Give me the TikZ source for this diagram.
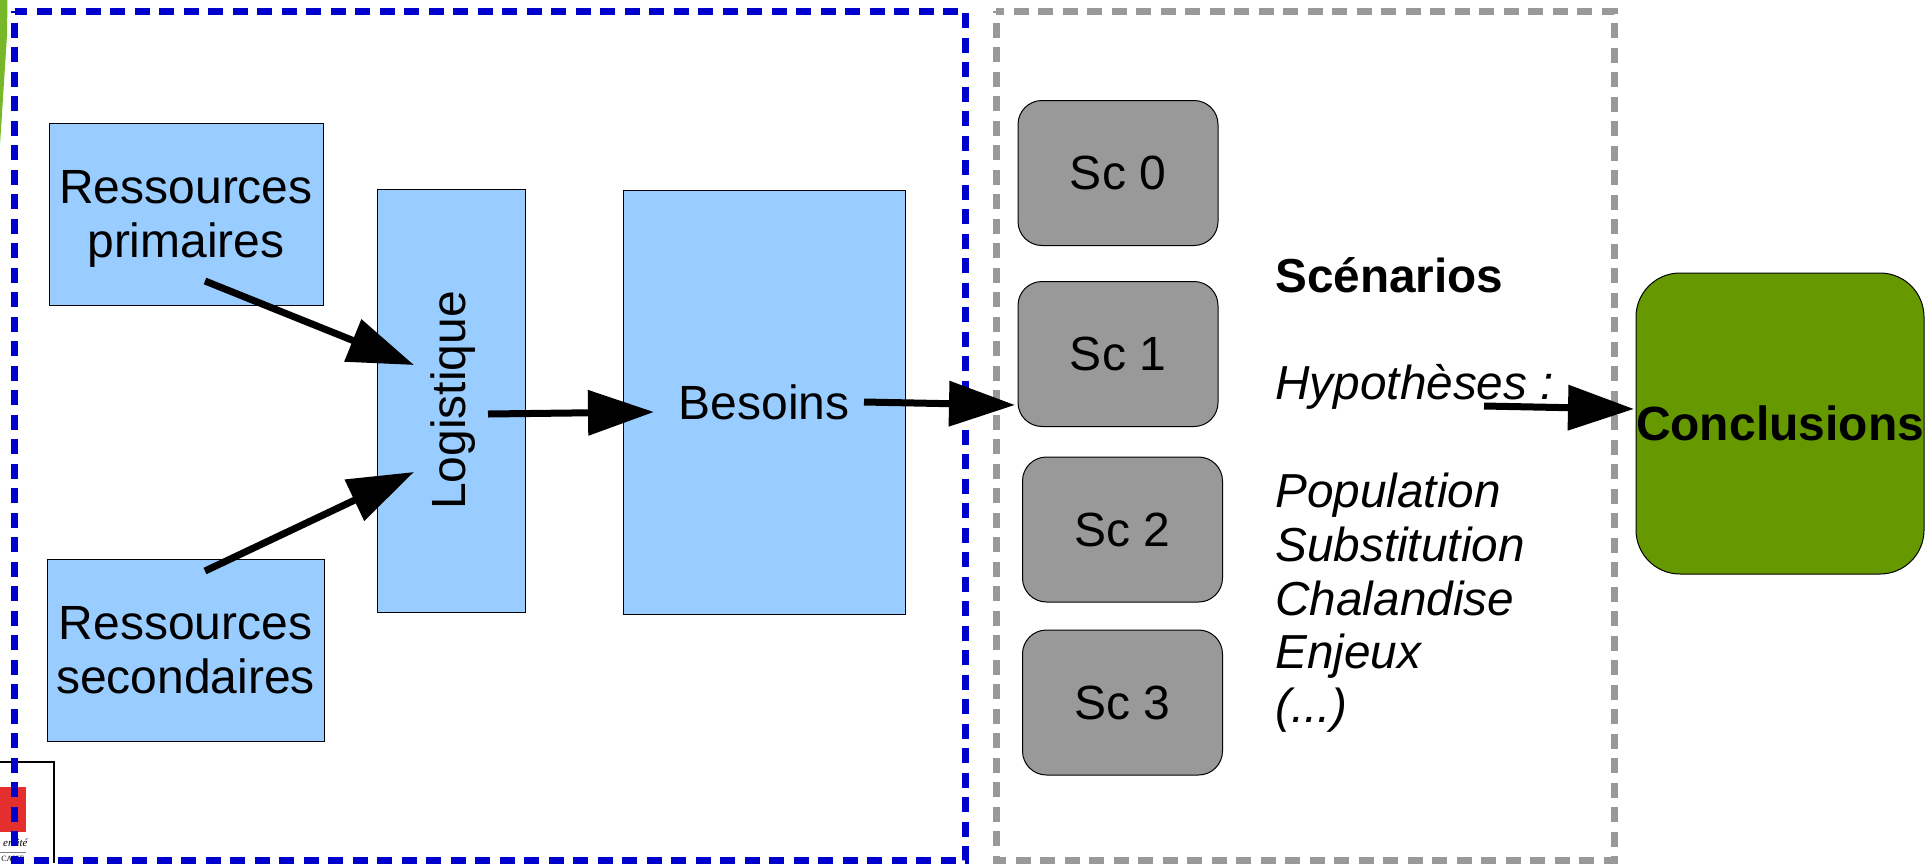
\documentclass[tikz,border=0pt]{standalone}
\usepackage{fontspec}
\setmainfont{Liberation Sans}
\newfontfamily\logofont{Liberation Serif}
\usetikzlibrary{arrows.meta}
\definecolor{besoinblue}{HTML}{99CCFF}
\definecolor{scgrey}{HTML}{999999}
\definecolor{dashblue}{HTML}{0000CC}
\definecolor{concgreen}{HTML}{669900}
\definecolor{slidegreen}{HTML}{77B82A}
\definecolor{logored}{HTML}{E52E2E}
\begin{document}
\begin{tikzpicture}[x=0.5pt, y=-0.5pt,
  main/.style = {draw, line width=0.5pt, inner sep=0pt, align=center, font=\fontsize{24}{27}\selectfont},
  res/.style = {main, fill=besoinblue},
  sc/.style = {main, fill=scgrey, rounded corners=12pt, minimum width=100pt, minimum height=72.5pt, text depth=-1pt},
  frame/.style = {line width=3.5pt, dash pattern=on 7.5pt off 4.75pt},
  fleche/.style = {line width=3.5pt, -{Triangle[length=33pt, width=22pt]}}]
  \useasboundingbox (0,0) rectangle (1927,863);
  \clip (0,0) rectangle (1927,863);
  \fill[slidegreen] (0,0) -- (7.5,0) -- (7,35) -- (0,145) -- cycle;
  \fill[logored] (0,787) rectangle (26,832);
  \draw[line width=0.75pt] (0,762) -- (54,762) -- (54,863);
  \draw[line width=0.4pt, gray] (0,852) -- (26,852);
  \node[anchor=east, inner sep=0pt, font=\logofont\itshape\fontsize{5.5}{6}\selectfont] (logotext) at (28,843) {ersité};
  \node[anchor=west, inner sep=0pt, font=\logofont\fontsize{4}{5}\selectfont] (logotext2) at (1,859) {CAISE};
  \draw[frame, dashblue, dash phase=1.25pt] (14.5,11) -- (965.5,11) -- (965.5,860.5) -- (14.5,860.5) -- cycle;
  \draw[frame, scgrey, dash phase=3.5pt] (996,11) -- (1614,11) -- (1614,860.5) -- (996,860.5) -- cycle;
  \node[res, minimum width=137pt, minimum height=91pt, text depth=-1pt] (1) at (186,214) {Ressources\\primaires};
  \node[res, minimum width=138.5pt, minimum height=91pt, text depth=-1pt] (2) at (185.5,650) {Ressources\\secondaires};
  \node[res, rotate=90, minimum width=211.5pt, minimum height=74pt, text depth=2.5pt] (3) at (451,400.5) {Logistique};
  \node[res, minimum width=141pt, minimum height=212pt] (4) at (764,402) {Besoins};
  \node[sc] (5) at (1118,173) {Sc 0};
  \node[sc] (6) at (1118,354) {Sc 1};
  \node[sc] (7) at (1122.5,529.5) {Sc 2};
  \node[sc] (8) at (1122.5,702.5) {Sc 3};
  \node[main, fill=concgreen, rounded corners=22pt, minimum width=144pt, minimum height=150.5pt, font=\fontsize{24}{27}\selectfont\bfseries] (9) at (1780,423.5) {Conclusions};
  \node[inner sep=0pt, align=left, anchor=north west, font=\fontsize{23.85}{26.9}\selectfont] (10) at (1275,257) {\textbf{Scénarios}\\~\\\textit{Hypothèses :}\\~\\\textit{Population}\\\textit{Substitution}\\\textit{Chalandise}\\\textit{Enjeux}\\\textit{(...)}};
  \coordinate (1out) at (205,281);
  \coordinate (2out) at (205,571);
  \coordinate (3a) at (414,365);
  \coordinate (3b) at (414,472);
  \coordinate (3out) at (488,414);
  \coordinate (4a) at (654,412);
  \coordinate (4out) at (864,402);
  \coordinate (6a) at (1015,405);
  \coordinate (10out) at (1484,406);
  \coordinate (9a) at (1634,409);
  \draw[fleche] (1out) -- (3a);
  \draw[fleche] (2out) -- (3b);
  \draw[fleche] (3out) -- (4a);
  \draw[fleche] (4out) -- (6a);
  \draw[fleche] (10out) -- (9a);
\end{tikzpicture}
\end{document}
